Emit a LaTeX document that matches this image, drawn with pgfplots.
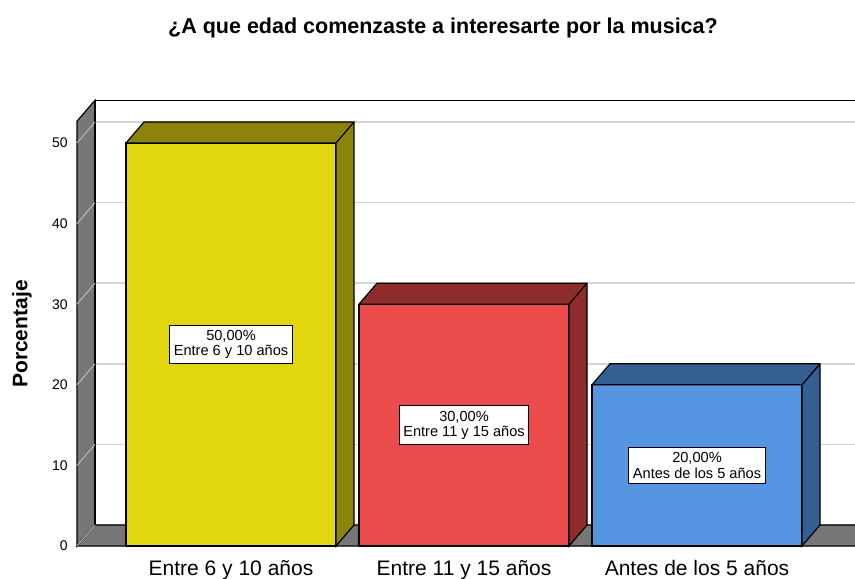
\documentclass[border=0pt]{standalone}
\usepackage{fontspec}
\setmainfont{Liberation Sans}
\usepackage{pgfplots}
\pgfplotsset{compat=1.18}
\definecolor{yfront}{HTML}{E2D60F}
\definecolor{ydark}{HTML}{8C840A}
\definecolor{rfront}{HTML}{EC4B4C}
\definecolor{rdark}{HTML}{8F2D2E}
\definecolor{bfront}{HTML}{5595E2}
\definecolor{bdark}{HTML}{355E91}
\definecolor{wallgray}{HTML}{777777}
\definecolor{gridc}{HTML}{D4D4D4}
\definecolor{diagc}{HTML}{B8B8B8}

% depth faces of a bar: 105pt wide, 9pt x 10.5pt deep, 4.03pt per unit
\newcommand\barval{0}
\pgfdeclareplotmark{depth3d}{%
  \pgfmathsetlengthmacro\hf{-\barval*4.03}%
  \pgfmathsetlengthmacro\hb{10.5-\barval*4.03}%
  \pgfpathmoveto{\pgfpoint{-52.5pt}{0pt}}%
  \pgfpathlineto{\pgfpoint{-43.5pt}{10.5pt}}%
  \pgfpathlineto{\pgfpoint{61.5pt}{10.5pt}}%
  \pgfpathlineto{\pgfpoint{61.5pt}{\hb}}%
  \pgfpathlineto{\pgfpoint{52.5pt}{\hf}}%
  \pgfpathlineto{\pgfpoint{52.5pt}{0pt}}%
  \pgfpathclose
  \pgfusepathqfillstroke
  \pgfpathmoveto{\pgfpoint{52.5pt}{0pt}}%
  \pgfpathlineto{\pgfpoint{61.5pt}{10.5pt}}%
  \pgfusepathqstroke
}

\begin{document}
\begin{tikzpicture}
\begin{axis}[
    x=116.5pt, y=4.03pt,
    xmin=-0.661, xmax=2.614, ymin=0, ymax=52.7,
    axis line style={draw=none}, major tick length=0pt,
    xtick={0,1,2},
    xticklabels={Entre 6 y 10 años, Entre 11 y 15 años, Antes de los 5 años},
    ytick={0,10,...,50},
    ymajorgrids,
    grid style={draw=gridc, line width=0.7pt, shift={(9pt,10.5pt)}},
    /pgf/number format/assume math mode=true,
    yticklabel style={font=\fontsize{7}{8}\selectfont, xshift=-1pt},
    xticklabel style={font=\fontsize{10.5}{12}\selectfont, yshift=-3.5pt},
    clip=false,
    line width=0.6pt,
  ]
  \coordinate (O) at ([shift={(-38.5pt,-16pt)}]rel axis cs:0,0);
  % walls
  \filldraw[fill=wallgray, draw=black] (rel axis cs:0,0) -- (rel axis cs:0,1)
    -- ([shift={(9pt,10.5pt)}]rel axis cs:0,1) -- ([shift={(9pt,10.5pt)}]rel axis cs:0,0) -- cycle;
  \filldraw[fill=wallgray, draw=black] (rel axis cs:0,0) -- ([shift={(9pt,10.5pt)}]rel axis cs:0,0)
    -- ([shift={(9pt,10.5pt)}]rel axis cs:1.05,0) -- (rel axis cs:1.05,0) -- cycle;
  \draw[black] ([shift={(9pt,10.5pt)}]rel axis cs:0,0) -- ([shift={(9pt,10.5pt)}]rel axis cs:0,1)
    -- ([shift={(9pt,10.5pt)}]rel axis cs:1.1,1);
  \pgfplotsinvokeforeach{0,10,20,30,40,50}{
    \draw[diagc, line width=0.5pt] (axis cs:-0.661,#1) -- ++(9pt,10.5pt);
  }
  % bars
  \addplot[ybar, bar width=105pt, bar shift=0pt, fill=yfront, draw=black] coordinates {(0,50)};
  \addplot[only marks, mark=depth3d, mark options={fill=ydark, draw=black},
    visualization depends on={rawy \as \barval}] coordinates {(0,50)};
  \addplot[ybar, bar width=105pt, bar shift=0pt, fill=rfront, draw=black] coordinates {(1,30)};
  \addplot[only marks, mark=depth3d, mark options={fill=rdark, draw=black},
    visualization depends on={rawy \as \barval}] coordinates {(1,30)};
  \addplot[ybar, bar width=105pt, bar shift=0pt, fill=bfront, draw=black] coordinates {(2,20)};
  \addplot[only marks, mark=depth3d, mark options={fill=bdark, draw=black},
    visualization depends on={rawy \as \barval}] coordinates {(2,20)};
  % labels
  \tikzset{lbl/.style={draw=black, fill=white, align=center, line width=0.6pt,
    font=\fontsize{7.3}{7.6}\selectfont, inner xsep=2pt, inner ysep=2.5pt}}
  \node[lbl] at (axis cs:0,25) {50,00\%\\Entre 6 y 10 años};
  \node[lbl] at (axis cs:1,15) {30,00\%\\Entre 11 y 15 años};
  \node[lbl] at (axis cs:2,10) {20,00\%\\Antes de los 5 años};
\end{axis}
\pgfresetboundingbox
\useasboundingbox (O) rectangle ([shift={(427.5pt,289pt)}]O);
\node[font=\bfseries\fontsize{10.75}{12}\selectfont] at ([shift={(221.5pt,275pt)}]O) {¿A que edad comenzaste a interesarte por la musica?};
\node[rotate=90,font=\bfseries\fontsize{10.5}{12}\selectfont] at ([shift={(11pt,122pt)}]O) {Porcentaje};
\end{tikzpicture}
\end{document}
